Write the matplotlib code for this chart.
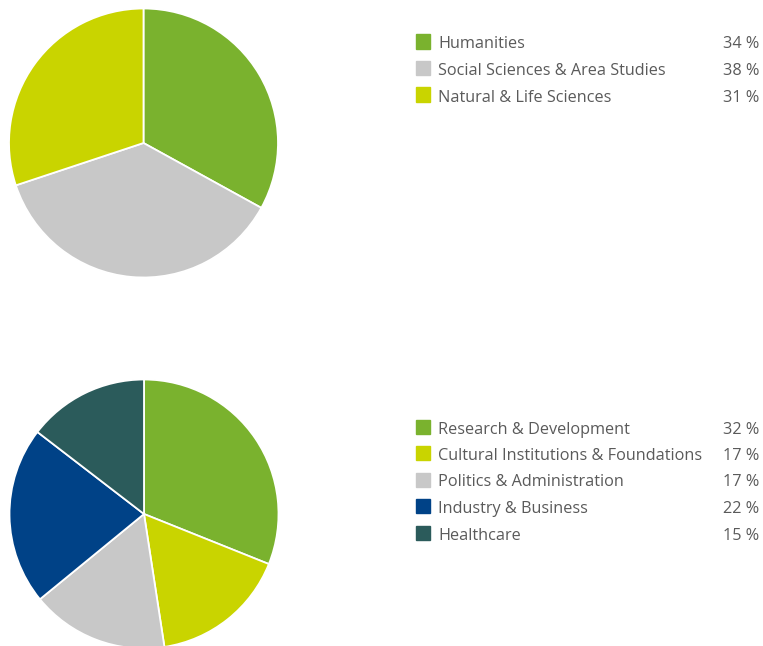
import matplotlib
matplotlib.use("Agg")
from matplotlib import pyplot as plt
from matplotlib.patches import Rectangle

# daten
fields = ["Humanities", "Social Sciences & Area Studies", "Natural & Life Sciences"]
field_pct = [34, 38, 31]
field_colors = ["#7ab22e", "#c8c8c8", "#c9d400"]

sectors = ["Research & Development", "Cultural Institutions & Foundations",
           "Politics & Administration", "Industry & Business", "Healthcare"]
sector_pct = [32, 17, 17, 22, 15]
sector_colors = ["#7ab22e", "#c9d400", "#c8c8c8", "#004287", "#2b5b5b"]

W, H = 763, 646
plt.rcParams["font.family"] = ["Open Sans", "DejaVu Sans"]
fig = plt.figure(figsize=(W / 100, H / 100), dpi=100)

def pie_at(cx, cy, r, values, colors):
    # cx, cy, r in pixels (y von oben)
    ax = fig.add_axes([(cx - r) / W, (H - cy - r) / H, 2 * r / W, 2 * r / H])
    ax.pie(values, colors=colors, startangle=90, counterclock=False,
           wedgeprops=dict(edgecolor="white", linewidth=1.3))
    ax.set_xlim(-1, 1)
    ax.set_ylim(-1, 1)
    ax.axis("off")

def legend_at(y0, labels, values, colors):
    for i, (lab, v, c) in enumerate(zip(labels, values, colors)):
        base = y0 + i * 26.5
        fig.patches.append(Rectangle((416 / W, (H - base) / H), 14 / W, 14 / H,
                                     transform=fig.transFigure, color=c))
        fig.text(438 / W, (H - base) / H, lab, fontsize=11.7, color="#5a5a5a",
                 va="baseline", ha="left")
        fig.text(759 / W, (H - base) / H, f"{v} %", fontsize=11.7, color="#5a5a5a",
                 va="baseline", ha="right")

pie_at(143.5, 143, 134.5, field_pct, field_colors)
pie_at(144, 514, 134.5, sector_pct, sector_colors)
legend_at(48.5, fields, field_pct, field_colors)
legend_at(433.5, sectors, sector_pct, sector_colors)

plt.savefig("out.png", dpi=100)
